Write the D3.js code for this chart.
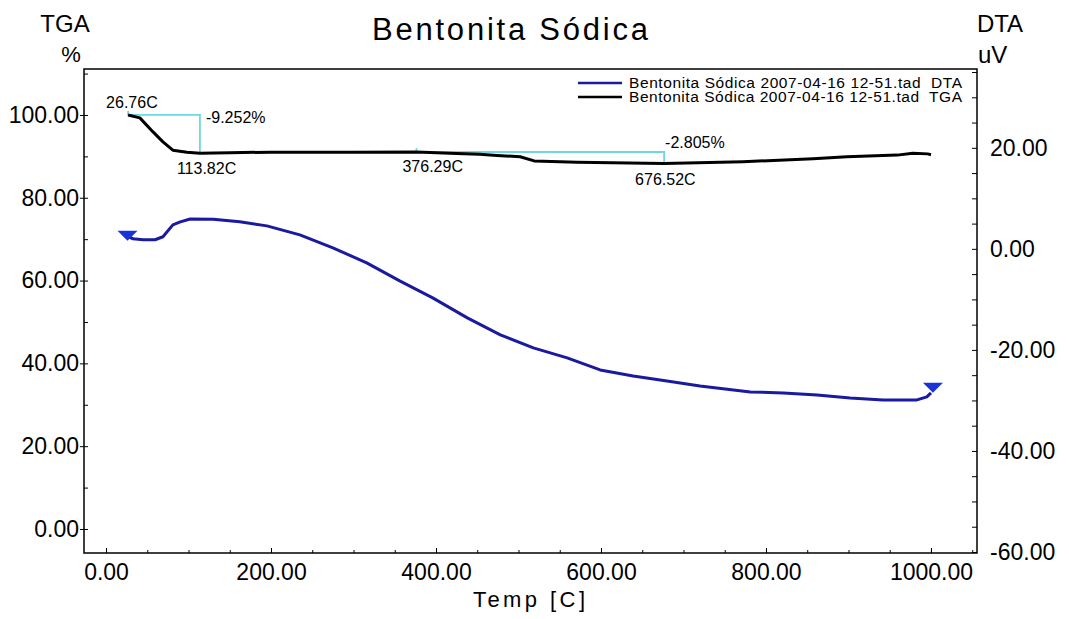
<!DOCTYPE html>
<html>
<head>
<meta charset="utf-8">
<script src="https://cdn.jsdelivr.net/npm/d3@7"></script>
<style>
  body { margin: 0; background: #fff; }
  svg text { font-family: "Liberation Sans", Arial, sans-serif; fill: #000; }
</style>
</head>
<body>
<svg id="chart" width="1069" height="619"></svg>
<script>
// TGA curve (temperature C, mass %)
const tgaTemp = [26.76, 41, 57, 69, 81, 98, 113.82, 150, 200, 250, 300, 376.29, 425, 453, 474, 502, 519, 571, 676.52, 772, 857, 898, 959, 978, 996, 1000];
const tgaPct  = [100, 99.3, 95.9, 93.5, 91.5, 91.0, 90.75, 90.9, 91.0, 91.0, 91.0, 91.05, 90.7, 90.5, 90.2, 89.9, 88.9, 88.6, 88.25, 88.7, 89.4, 89.9, 90.3, 90.75, 90.6, 90.4];

// DTA curve (temperature C, uV)
const dtaTemp = [26.7, 32.7, 45, 59.4, 69, 81, 90, 102, 130, 162, 195, 235, 275, 316, 356, 396, 438, 478, 518, 559, 599, 639, 680, 720, 781, 821, 862, 902, 942, 983, 995, 1000];
const dtaUv   = [2.4, 2.0, 1.8, 1.8, 2.4, 4.75, 5.35, 5.9, 5.85, 5.35, 4.55, 2.77, 0.2, -2.77, -6.34, -9.7, -13.66, -17.03, -19.6, -21.58, -23.96, -25.15, -26.14, -27.13, -28.32, -28.51, -28.91, -29.5, -29.9, -29.9, -29.3, -28.5];

// DTA start / end markers
const markTemp = [26, 1002.4];
const markUv   = [2.6, -27.5];

// step annotations on TGA
const annStart    = [26.76, 376.29];
const annEnd      = [113.82, 676.52];
const annStartPct = [100, 91.05];
const annDrop     = [-9.252, -2.805];

// tick values
const xMajor = [0, 200, 400, 600, 800, 1000];
const xMinor = d3.range(0, 1051, 50);
const yLMajor = [0, 20, 40, 60, 80, 100];
const yLMinor = d3.range(0, 111, 10);
const yRMajor = [-60, -40, -20, 0, 20];
const yRMinor = d3.range(-60, 36, 5);

const legendLabels = ["Bentonita Sódica 2007-04-16 12-51.tad  DTA", "Bentonita Sódica 2007-04-16 12-51.tad  TGA"];
const legendColors = ["#1a1aa0", "#000"];

const svg = d3.select("#chart");
const box = { left: 84, right: 977, top: 69, bottom: 553 };

const x  = d3.scaleLinear().domain([-26.7, 1055.8]).range([box.left, box.right]);
const yL = d3.scaleLinear().domain([-5.8, 111.1]).range([box.bottom, box.top]);
const yR = d3.scaleLinear().domain([-60.2, 35.6]).range([box.bottom, box.top]);
const fmt = d => d.toFixed(2);

function styleAxis(g, size) {
  g.select(".domain").remove();
  g.selectAll("text").attr("font-size", size).attr("font-family", "Liberation Sans, Arial, sans-serif");
  g.selectAll("line").attr("stroke", "#000");
}

// bottom axis
svg.append("g").attr("transform", `translate(0,${box.bottom})`)
  .call(d3.axisBottom(x).tickValues(xMinor).tickSize(-3).tickFormat(""))
  .call(g => styleAxis(g, 0));
svg.append("g").attr("transform", `translate(0,${box.bottom})`)
  .call(d3.axisBottom(x).tickValues(xMajor).tickSize(-5).tickPadding(11).tickFormat(fmt))
  .call(g => styleAxis(g, 23));

// left axis
svg.append("g").attr("transform", `translate(${box.left},0)`)
  .call(d3.axisLeft(yL).tickValues(yLMinor).tickSize(-4).tickFormat(""))
  .call(g => styleAxis(g, 0));
svg.append("g").attr("transform", `translate(${box.left},0)`)
  .call(d3.axisLeft(yL).tickValues(yLMajor).tickSize(4).tickPadding(1).tickFormat(fmt))
  .call(g => styleAxis(g, 23));

// right axis
svg.append("g").attr("transform", `translate(${box.right},0)`)
  .call(d3.axisRight(yR).tickValues(yRMinor).tickSize(-5).tickFormat(""))
  .call(g => styleAxis(g, 0));
svg.append("g").attr("transform", `translate(${box.right},0)`)
  .call(d3.axisRight(yR).tickValues(yRMajor).tickSize(0).tickPadding(13).tickFormat(fmt))
  .call(g => styleAxis(g, 23));

// frame
svg.append("rect")
  .attr("x", box.left).attr("y", box.top)
  .attr("width", box.right - box.left).attr("height", box.bottom - box.top)
  .attr("fill", "none").attr("stroke", "#000").attr("stroke-width", 1.5);

// curves
const tgaLine = d3.line().x(d => x(d[0])).y(d => yL(d[1]));
const dtaLine = d3.line().x(d => x(d[0])).y(d => yR(d[1]));

svg.append("path").datum(d3.zip(dtaTemp, dtaUv))
  .attr("d", dtaLine).attr("fill", "none")
  .attr("stroke", "#1a1aa0").attr("stroke-width", 3).attr("stroke-linejoin", "round");

svg.selectAll(".mark").data(d3.zip(markTemp, markUv)).join("path")
  .attr("class", "mark")
  .attr("transform", d => `translate(${x(d[0])},${yR(d[1])})`)
  .attr("d", "M-10,-5L10,-5L0,5Z")
  .attr("fill", "#1834d8");

// annotations (cyan)
annStart.forEach((t0, i) => {
  const t1 = annEnd[i];
  const p0 = annStartPct[i];
  const p1 = p0 + annDrop[i];
  const g = svg.append("g");
  g.append("path")
    .attr("d", `M${x(t0)},${yL(p0) - 4}L${x(t0)},${yL(p0)}L${x(t1)},${yL(p0)}L${x(t1)},${yL(p1)}`)
    .attr("fill", "none").attr("stroke", "#6fd8e4").attr("stroke-width", 1.8);
  g.append("text")
    .attr("x", x(t0) + (i === 0 ? -22 : -14))
    .attr("y", yL(p0) + (i === 0 ? -7 : 20))
    .attr("font-size", 16).text(`${fmt(t0)}C`);
  g.append("text")
    .attr("x", x(t1) + (i === 0 ? 6 : 1))
    .attr("y", yL(p0) + (i === 0 ? 8 : -4))
    .attr("font-size", 16).text(`${annDrop[i].toFixed(3)}%`);
  g.append("text")
    .attr("x", x(t1) + (i === 0 ? -23 : -29))
    .attr("y", yL(p1) + 21)
    .attr("font-size", 16).text(`${fmt(t1)}C`);
});

svg.append("path").datum(d3.zip(tgaTemp, tgaPct))
  .attr("d", tgaLine).attr("fill", "none")
  .attr("stroke", "#000").attr("stroke-width", 3).attr("stroke-linejoin", "round");

// legend
const leg = svg.append("g");
legendLabels.forEach((lab, i) => {
  const ly = 83 + i * 14;
  leg.append("line").attr("x1", 578).attr("x2", 622).attr("y1", ly).attr("y2", ly)
    .attr("stroke", legendColors[i]).attr("stroke-width", 2.5);
  leg.append("text").attr("x", 629).attr("y", ly + 5)
    .attr("font-size", 15.5).attr("textLength", 333).attr("lengthAdjust", "spacing")
    .attr("xml:space", "preserve").text(lab);
});

// titles
svg.append("text").attr("x", 510).attr("y", 40).attr("text-anchor", "middle")
  .attr("font-size", 31).attr("textLength", 276).attr("lengthAdjust", "spacing")
  .text("Bentonita Sódica");
svg.append("text").attr("x", 65).attr("y", 32).attr("text-anchor", "middle").attr("font-size", 24).text("TGA");
svg.append("text").attr("x", 71).attr("y", 62).attr("text-anchor", "middle").attr("font-size", 22).text("%");
svg.append("text").attr("x", 1000).attr("y", 32).attr("text-anchor", "middle").attr("font-size", 24).text("DTA");
svg.append("text").attr("x", 978).attr("y", 63).attr("font-size", 24).text("uV");
svg.append("text").attr("x", 473).attr("y", 607).attr("font-size", 22)
  .attr("textLength", 112).attr("lengthAdjust", "spacing").text("Temp [C]");
</script>
</body>
</html>
